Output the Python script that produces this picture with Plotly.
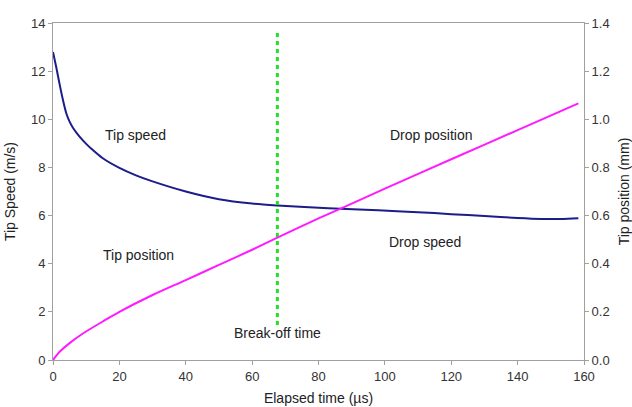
import plotly.graph_objects as go

# Tip speed (left axis, m/s)
speed_t = [0, 1, 2, 3, 4, 5, 6, 8, 10, 12, 15, 20, 25, 30, 40, 50, 60, 67.6, 83, 98, 110, 120, 130, 140, 147, 153, 158.3]
speed_v = [12.8, 12.15, 11.45, 10.8, 10.25, 9.9, 9.65, 9.28, 8.98, 8.72, 8.38, 7.98, 7.67, 7.42, 7.0, 6.68, 6.5, 6.42, 6.3, 6.22, 6.14, 6.06, 5.98, 5.9, 5.86, 5.86, 5.89]

# Tip position (right axis, mm)
pos_t = [0, 1, 2, 5, 9, 15, 20, 30, 40, 50, 60, 67.6, 80, 86, 100, 120, 140, 158.3]
pos_v = [0, 0.018, 0.034, 0.07, 0.11, 0.16, 0.2, 0.27, 0.332, 0.395, 0.458, 0.508, 0.588, 0.625, 0.712, 0.834, 0.955, 1.066]

# Break-off time marker
breakoff_t = [67.6, 67.6]
breakoff_v = [1.45, 13.6]

labels = ["Tip speed", "Drop position", "Tip position", "Drop speed", "Break-off time"]
label_x = [25, 113.9, 25.8, 112.2, 67.6]
label_y = [9.35, 9.35, 4.36, 4.9, 1.12]

tick_font = dict(family="Liberation Sans, Arial, sans-serif", size=13, color="#333")
text_font = dict(family="Liberation Sans, Arial, sans-serif", size=14, color="#222")

fig = go.Figure()
fig.add_trace(go.Scatter(x=speed_t, y=speed_v, mode="lines",
                         line=dict(color="#1c1c8a", width=2, shape="spline", smoothing=0.8), showlegend=False))
fig.add_trace(go.Scatter(x=pos_t, y=pos_v, mode="lines", yaxis="y2",
                         line=dict(color="#ff1aff", width=2, shape="spline", smoothing=0.8), showlegend=False))
fig.add_trace(go.Scatter(x=breakoff_t, y=breakoff_v, mode="lines",
                         line=dict(color="#22e022", width=3, dash="4px,4px"), showlegend=False))

for txt, xx, yy in zip(labels, label_x, label_y):
    fig.add_annotation(x=xx, y=yy, text=txt, showarrow=False, font=text_font, xanchor="center", yanchor="middle")

axis_common = dict(showgrid=False, zeroline=False, showline=True, linecolor="#a0a0a0", linewidth=1,
                   ticks="outside", tickcolor="#a0a0a0", ticklen=4, tickfont=tick_font, automargin=False)

fig.update_layout(
    width=632, height=407,
    margin=dict(l=53, r=48, t=23, b=47),
    paper_bgcolor="white", plot_bgcolor="white",
    font=tick_font,
    xaxis=dict(range=[0, 160], tickvals=list(range(0, 161, 20)), mirror=True,
               title=dict(text="Elapsed time (µs)", font=text_font, standoff=10), **axis_common),
    yaxis=dict(range=[0, 14], tickvals=list(range(0, 15, 2)),
               title=dict(text="Tip Speed (m/s)", font=text_font, standoff=12), **axis_common),
    yaxis2=dict(range=[0, 1.4], tickvals=[0, 0.2, 0.4, 0.6, 0.8, 1.0, 1.2, 1.4], tickformat=".1f",
                overlaying="y", side="right",
                title=dict(text="Tip position (mm)", font=text_font, standoff=12), **axis_common),
)

fig.write_html("out.html")
